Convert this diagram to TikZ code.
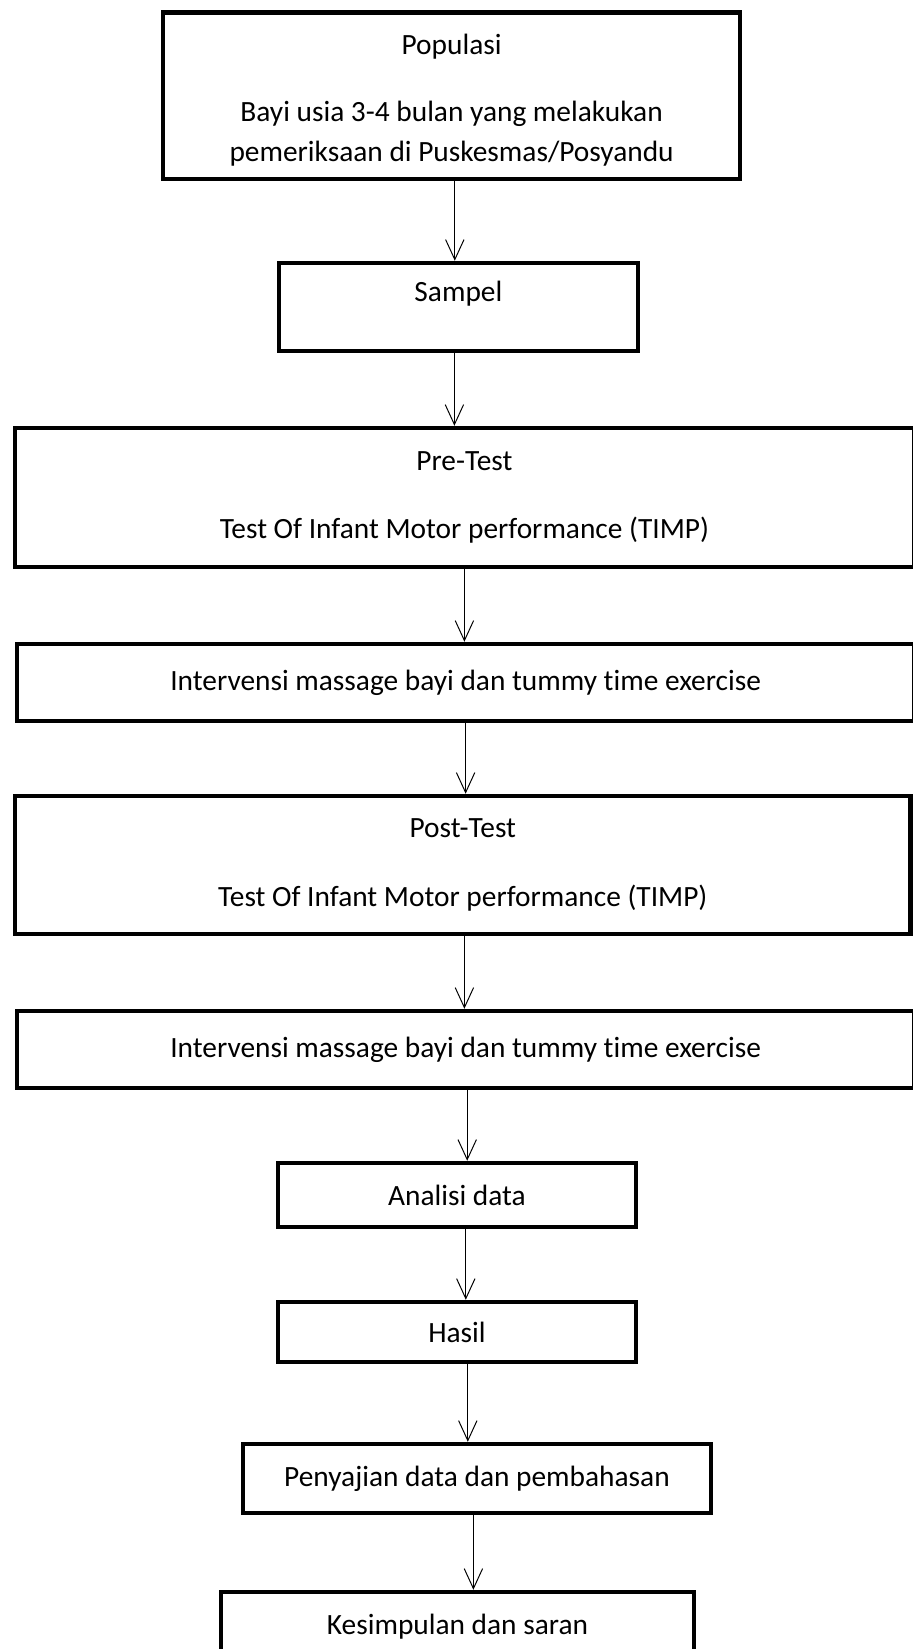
\documentclass[tikz,border=0pt]{standalone}
\usepackage{fontspec}
\setmainfont{Carlito}[Ligatures=NoCommon]
\usetikzlibrary{arrows.meta}

\begin{document}
\begin{tikzpicture}[
    box/.style={rectangle, draw, line width=3.2pt, align=center, inner sep=0pt,
                font=\fontsize{20.9}{28.45}\selectfont},
    link/.style={-{Straight Barb[length=0.5cm, width=0.46cm]}, line width=0.7pt}]

    \useasboundingbox[fill=white] (0,0) rectangle (22.8,-41.225);

    \node[box, minimum width=14.43cm, minimum height=4.16cm] (pop) at (11.29, -2.394)
        {\rule{0pt}{0.74cm}Populasi\\[0.69cm]Bayi usia 3-4 bulan yang melakukan\\pemeriksaan di Puskesmas/Posyandu};
    \node[box, minimum width=8.975cm, minimum height=2.2cm, text depth=0.78cm] (samp) at (11.46, -7.675) {Sampel};
    \node[box, minimum width=22.475cm, minimum height=3.475cm] (pre) at (11.61, -12.4375)
        {Pre-Test\\[0.71cm]Test Of Infant Motor performance (TIMP)};
    \node[box, minimum width=22.425cm, minimum height=1.925cm] (int1) at (11.64, -17.0625)
        {Intervensi massage bayi dan tummy time exercise};
    \node[box, minimum width=22.39cm, minimum height=3.45cm] (post) at (11.57, -21.625)
        {Post-Test\\[0.71cm]Test Of Infant Motor performance (TIMP)};
    \node[box, minimum width=22.425cm, minimum height=1.925cm] (int2) at (11.64, -26.2375)
        {Intervensi massage bayi dan tummy time exercise};
    \node[box, minimum width=8.95cm, minimum height=1.6cm] (ana) at (11.425, -29.875) {Analisi data};
    \node[box, minimum width=8.95cm, minimum height=1.5cm] (has) at (11.425, -33.3) {Hasil};
    \node[box, minimum width=11.7cm, minimum height=1.725cm] (pen) at (11.925, -36.9625)
        {Penyajian data dan pembahasan};
    \node[box, minimum width=11.825cm, minimum height=1.725cm] (kes) at (11.4375, -40.6625)
        {Kesimpulan dan saran};

    % alur
    \draw[link] ([xshift=0.08cm]pop.south) -- ([xshift=0.08cm]pop.south |- samp.north);
    \draw[link] ([xshift=-0.1cm]samp.south) -- ([xshift=-0.1cm]samp.south |- pre.north);
    \draw[link] (pre.south) -- (pre.south |- int1.north);
    \draw[link] (int1.south) -- (int1.south |- post.north);
    \draw[link] ([xshift=0.04cm]post.south) -- ([xshift=0.04cm]post.south |- int2.north);
    \draw[link] ([xshift=0.04cm]int2.south) -- ([xshift=0.04cm]int2.south |- ana.north);
    \draw[link] ([xshift=0.22cm]ana.south) -- ([xshift=0.22cm]ana.south |- has.north);
    \draw[link] ([xshift=0.27cm]has.south) -- ([xshift=0.27cm]has.south |- pen.north);
    \draw[link] ([xshift=-0.09cm]pen.south) -- ([xshift=-0.09cm]pen.south |- kes.north);
\end{tikzpicture}
\end{document}
